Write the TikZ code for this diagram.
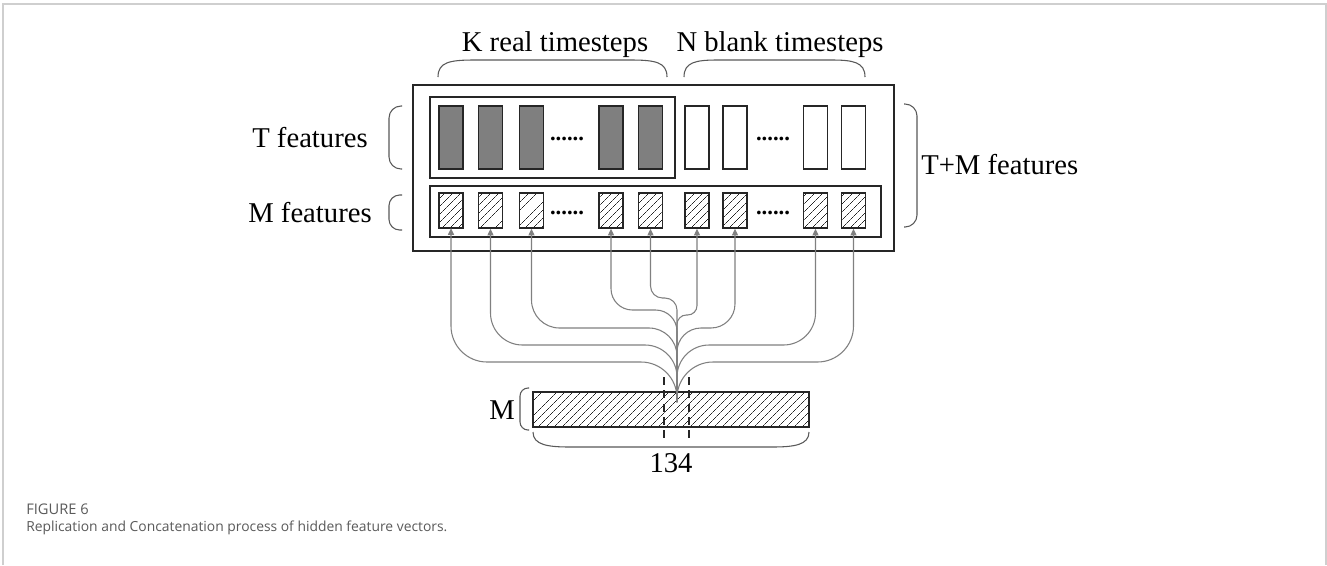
\documentclass[tikz,border=0pt]{standalone}
\usepackage{fontspec}
\setmainfont{Liberation Serif}
\newfontfamily\capfont{Open Sans}
\usetikzlibrary{arrows.meta,patterns.meta}
\definecolor{ink}{HTML}{262626}
\definecolor{barg}{HTML}{7F7F7F}
\definecolor{feedg}{HTML}{808080}
\definecolor{capg}{HTML}{5A5A5A}
\definecolor{frameg}{HTML}{CFCFCF}
\newcommand{\lbl}{\fontsize{21.5}{24}\selectfont}
\newcommand{\dotrow}{\fontsize{17}{20}\selectfont\bfseries ......}
\tikzset{
  realbar/.style={draw=ink,line width=1.3pt,fill=barg,minimum width=18pt,minimum height=47pt,inner sep=0pt},
  blankbar/.style={realbar,fill=white},
  hbox/.style={draw=ink,line width=1.3pt,minimum width=18pt,minimum height=26pt,inner sep=0pt,
    pattern={Lines[angle=45,distance=4pt,line width=0.45pt]},pattern color=ink},
  grp/.style={draw=ink,line width=1.1pt,inner sep=0pt},
  lab/.style={font=\lbl,text=black,inner sep=0pt},
  brk/.style={draw=black!65,line width=0.8pt},
  feed/.style={draw=feedg,line width=0.8pt,-{Triangle[length=5pt,width=4.5pt]}},
}
\begin{document}
\begin{tikzpicture}[x=0.75pt,y=-0.75pt]
\useasboundingbox (0,0) rectangle (1327,565);
\fill[white] (0,0) rectangle (1327,565);
\draw[frameg,line width=1.5pt] (3,565) -- (3,4) -- (1326,4) -- (1326,565);
% boxes
\node[grp,minimum width=360.75pt,minimum height=124.5pt] (outer) at (653.5,168) {};
\node[grp,minimum width=183.75pt,minimum height=60.75pt] (kbox) at (552.5,137.5) {};
\node[grp,minimum width=338.25pt,minimum height=38.25pt] (mbox) at (655.5,211.5) {};
% T features
\node[realbar] (t1) at (451,137.5) {};
\node[realbar] (t2) at (490.5,137.5) {};
\node[realbar] (t3) at (531.5,137.5) {};
\node[realbar] (t4) at (611,137.5) {};
\node[realbar] (t5) at (650.5,137.5) {};
\node[blankbar] (t6) at (697,137.5) {};
\node[blankbar] (t7) at (735,137.5) {};
\node[blankbar] (t8) at (815.5,137.5) {};
\node[blankbar] (t9) at (853.5,137.5) {};
\node[inner sep=0pt] (kdots) at (567,139) {\dotrow};
\node[inner sep=0pt] (ndots) at (773,139) {\dotrow};
% M features
\node[hbox] (m1) at (451,210.5) {};
\node[hbox] (m2) at (490.5,210.5) {};
\node[hbox] (m3) at (531.5,210.5) {};
\node[hbox] (m4) at (611,210.5) {};
\node[hbox] (m5) at (650.5,210.5) {};
\node[hbox] (m6) at (697,210.5) {};
\node[hbox] (m7) at (735,210.5) {};
\node[hbox] (m8) at (815.5,210.5) {};
\node[hbox] (m9) at (853.5,210.5) {};
\node[inner sep=0pt] (mdots1) at (567,213) {\dotrow};
\node[inner sep=0pt] (mdots2) at (773,213) {\dotrow};
% hidden vector
\node[hbox,minimum width=207pt] (vec) at (671,409.5) {};
\coordinate (hub) at (677,402);
\draw[feed,rounded corners=27pt] (hub) -- (677,362) -| (m1.south);
\draw[feed,rounded corners=27pt] (hub) -- (677,362) -| (m9.south);
\draw[feed,rounded corners=24pt] (hub) -- (677,345) -| (m2.south);
\draw[feed,rounded corners=24pt] (hub) -- (677,345) -| (m8.south);
\draw[feed,rounded corners=21pt] (hub) -- (677,328) -| (m3.south);
\draw[feed,rounded corners=18pt] (hub) -- (677,328) -| (m7.south);
\draw[feed,rounded corners=16pt] (hub) -- (677,310) -| (m4.south);
\draw[feed,rounded corners=9pt] (hub) -- (677,298) -| (m5.south);
\draw[feed,rounded corners=7pt] (hub) -- (677,315) -| (m6.south);
\draw[ink,line width=0.8pt,dash pattern=on 6pt off 4pt] (664,377) -- (664,443);
\draw[ink,line width=0.8pt,dash pattern=on 6pt off 4pt] (689,377) -- (689,443);
% braces
\draw[brk] (438,77) .. controls (438,62) and (450,60) .. (475,60) -- (630,60) .. controls (655,60) and (667,62) .. (667,77);
\draw[brk] (684,77) .. controls (684,62) and (696,60) .. (718,60) -- (831,60) .. controls (853,60) and (865,62) .. (865,77);
\draw[brk,rounded corners=9pt] (402,106) -- (389,106) -- (389,169) -- (402,169);
\draw[brk,rounded corners=8pt] (402,195) -- (389,195) -- (389,230) -- (402,230);
\draw[brk,rounded corners=9pt] (904,104) -- (917,104) -- (917,227) -- (904,227);
\draw[brk,rounded corners=6pt] (529,388) -- (520,388) -- (520,430) -- (529,430);
\draw[brk] (533,432) .. controls (533,445) and (548,447) .. (570,447) -- (772,447) .. controls (794,447) and (809,445) .. (809,432);
% labels
\node[lab] (kreal) at (555,45) {K real timesteps};
\node[lab] (nblank) at (780,45) {N blank timesteps};
\node[lab] (tfeat) at (310,138) {T features};
\node[lab] (mfeat) at (310,213) {M features};
\node[lab,anchor=west] (tmfeat) at (921,165) {T+M features};
\node[lab,anchor=east] (mlab) at (515,410) {M};
\node[lab] (num) at (671,463) {134};
% caption
\node[anchor=west,inner sep=0pt,text=capg,font=\capfont\fontsize{11}{13}\selectfont] (fig) at (26,509) {FIGURE 6};
\node[anchor=west,inner sep=0pt,text=capg,font=\capfont\fontsize{10.4}{13}\selectfont] (cap) at (26,528) {Replication and Concatenation process of hidden feature vectors.};
\end{tikzpicture}
\end{document}
